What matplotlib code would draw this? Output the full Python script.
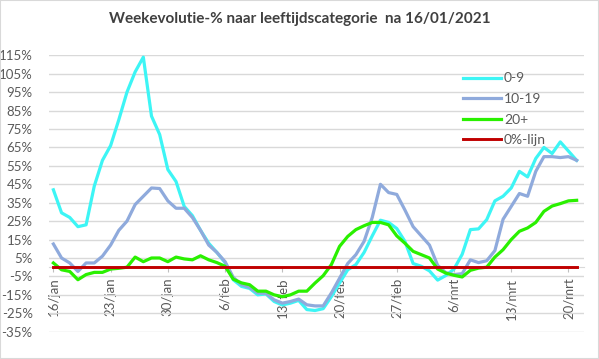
import matplotlib
matplotlib.use("Agg")
import matplotlib.pyplot as plt
import numpy as np

plt.rcParams['font.family'] = ['Lato', 'DejaVu Sans']

# daily values, 16/jan .. 21/mrt (65 days)
age_0_9 = [42, 29.5, 27, 22, 23, 44, 58, 66, 80, 95, 106, 114, 82, 72, 53, 46.5,
           33, 28, 20, 13, 8, 2.5, -6.8, -10.4, -11.5, -15, -14.5, -18.6, -20.5, -19.5, -18, -23,
           -23.5, -22.5, -16, -8.6, -1.4, 1.4, 8, 17, 25.5, 24.3, 21, 14, 2, 0.5, -2, -7,
           -4.5, -1, 7, 20.4, 20.8, 25.8, 36, 38.5, 43, 52, 49, 59, 65, 61.7, 68, 63, 58]
age_10_19 = [12.6, 5, 2.3, -2.3, 2.3, 2.3, 6, 12, 20, 25, 34, 38.5, 43, 42.7, 36, 32,
             32, 27, 20, 12, 8, 3, -5.5, -9.5, -11, -14, -14.2, -17.7, -19.5, -18.6, -17.3, -20.4,
             -21, -21, -14, -6, 2, 6.8, 14, 27, 45, 40.5, 39.5, 31, 22, 17, 12, 1,
             -3, -4, -3.5, 4, 2.5, 3.5, 9, 26, 33, 40, 38.5, 52, 60, 60, 59.5, 60, 58]
age_20_plus = [2.3, -1.4, -2.3, -6.8, -4, -2.8, -2.8, -1, -0.6, 0, 5.5, 3, 5, 5, 3, 5.5,
               4.5, 4, 6.2, 4, 2.5, 0.5, -6.5, -8.5, -9.5, -13, -13, -15, -16, -15, -13, -13,
               -8.6, -4.6, 1.4, 11.3, 16.7, 20.4, 22.5, 24.3, 24.3, 23, 17, 13, 8.6, 6.8, 5, -1,
               -3.2, -4.4, -5.3, -1.7, -0.5, 0, 5.5, 9.5, 15, 19.5, 21.3, 24.3, 30.3, 33.2, 34.5, 36, 36.3]
zero_line = [0] * len(age_0_9)

series_names = ["0-9", "10-19", "20+", "0%-lijn"]
tick_labels = ["16/jan", "23/jan", "30/jan", "6/feb", "13/feb", "20/feb",
               "27/feb", "6/mrt", "13/mrt", "20/mrt"]
y_ticks = list(range(-35, 116, 10))

days = np.arange(len(age_0_9))

W, H = 599, 359
fig = plt.figure(figsize=(W / 100, H / 100), dpi=100)
fig.patch.set_facecolor("white")
ax = fig.add_axes([49.3 / W, 1 - 331.7 / H, (584 - 49.3) / W, (331.7 - 55.3) / H])

lw = 2.3
ax.plot(days, age_0_9, color="#3DF5F5", lw=lw, label=series_names[0], zorder=3, solid_joinstyle="round")
ax.plot(days, age_10_19, color="#8FAADC", lw=lw, label=series_names[1], zorder=4, solid_joinstyle="round")
ax.plot(days, age_20_plus, color="#2AF000", lw=lw, label=series_names[2], zorder=5, solid_joinstyle="round")
ax.plot(days, zero_line, color="#C00000", lw=2.1, label=series_names[3], zorder=6)

ax.set_xlim(-0.5, 64.9)
ax.set_ylim(-35, 115)
ax.set_yticks(y_ticks)
ax.set_yticklabels([f"{v}%" for v in y_ticks])
ax.grid(axis="y", color="#D9D9D9", lw=1)
ax.set_axisbelow(True)

for s in ["top", "right", "left"]:
    ax.spines[s].set_visible(False)
ax.spines["bottom"].set_position(("data", 0))
ax.spines["bottom"].set_color("#D9D9D9")

ax.set_xticks(days[::7])
ax.set_xticklabels(tick_labels, rotation=90)
ax.tick_params(axis="x", direction="out", length=3.5, color="#BFBFBF", labelsize=9.5,
               labelcolor="#595959", pad=4)
ax.tick_params(axis="y", length=0, labelsize=9.5, labelcolor="#595959", pad=12)

leg = ax.legend(loc="upper left", bbox_to_anchor=(463 / W, 1 - 72.5 / H),
                bbox_transform=fig.transFigure, frameon=False, fontsize=10,
                handlelength=2.7, handletextpad=0.25, labelspacing=0.62,
                borderpad=0, borderaxespad=0)
for t in leg.get_texts():
    t.set_color("#595959")

fig.text(0.5, 1 - 19 / H, "Weekevolutie-% naar leeftijdscategorie  na 16/01/2021",
         ha="center", va="center", fontsize=11, fontweight="bold", color="#404040")

fig.add_artist(plt.Rectangle((0, 0), 1, 1, transform=fig.transFigure, fill=False,
                             edgecolor="#D9D9D9", lw=1.5))

fig.savefig("out.png", dpi=100)
